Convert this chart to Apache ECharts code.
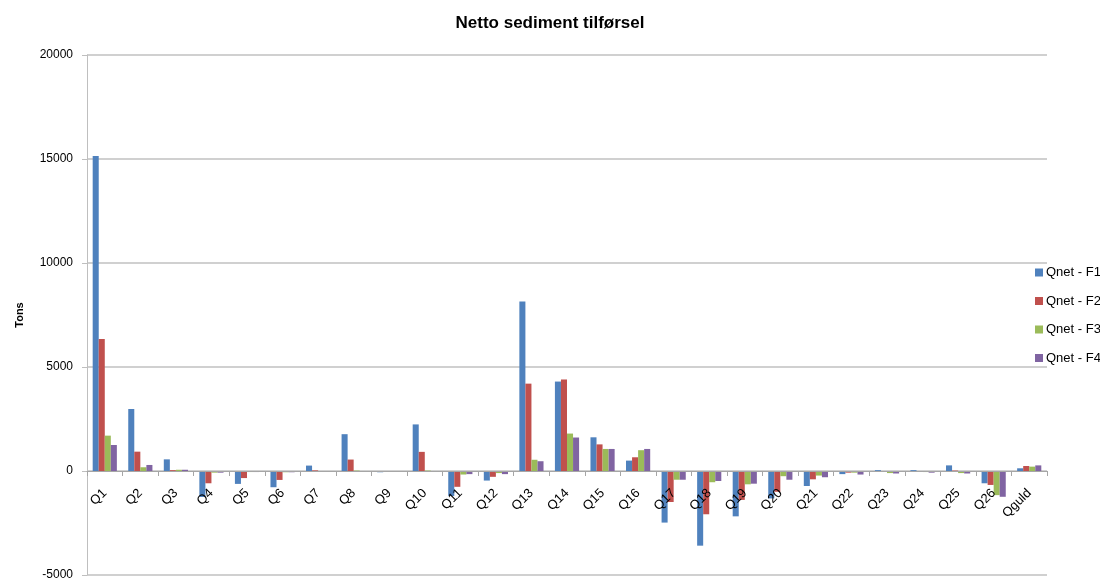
<!DOCTYPE html>
<html>
<head>
<meta charset="utf-8">
<script src="https://cdn.jsdelivr.net/npm/echarts@6/dist/echarts.min.js"></script>
<style>
  html, body { margin: 0; padding: 0; background: #fff; }
  #chart { width: 1100px; height: 583px; }
</style>
</head>
<body>
<div id="chart"></div>
<script>
var categories = ['Q1','Q2','Q3','Q4','Q5','Q6','Q7','Q8','Q9','Q10','Q11','Q12','Q13','Q14','Q15','Q16','Q17','Q18','Q19','Q20','Q21','Q22','Q23','Q24','Q25','Q26','Qguld'];

var qnetF1 = [15150, 2980, 560, -1250, -620, -780, 260, 1770, -60, 2240, -1200, -460, 8150, 4300, 1620, 500, -2480, -3590, -2180, -1320, -720, -150, 40, 40, 270, -590, 130];
var qnetF2 = [6350, 930, 40, -590, -340, -430, 30, 550, -30, 920, -760, -280, 4200, 4400, 1280, 660, -1490, -2080, -1390, -1000, -400, -80, -20, -20, 20, -670, 240];
var qnetF3 = [1700, 180, 60, -80, -50, -60, -40, 20, 0, 20, -170, -100, 540, 1800, 1060, 1000, -420, -540, -640, -250, -220, -80, -100, -50, -100, -1160, 210];
var qnetF4 = [1250, 290, 60, -80, -50, -60, -40, 0, -30, 0, -150, -150, 470, 1610, 1060, 1060, -420, -480, -610, -420, -300, -170, -120, -80, -120, -1240, 270];

var yTicks = { min: -5000, max: 20000, step: 5000 };

var colors = ['#4F81BD', '#C0504D', '#9BBB59', '#8064A2'];
var names = ['Qnet - F1', 'Qnet - F2', 'Qnet - F3', 'Qnet - F4'];
var allData = [qnetF1, qnetF2, qnetF3, qnetF4];

var series = allData.map(function (d, i) {
  return {
    name: names[i],
    type: 'bar',
    data: d,
    barGap: '0%',
    barCategoryGap: '32%',
    itemStyle: { color: colors[i] }
  };
});

// grid is 520px tall; the category axis is moved up to the zero line
var gridTop = 55, gridHeight = 520;
var zeroOffset = gridHeight * (0 - yTicks.min) / (yTicks.max - yTicks.min);

var chart = echarts.init(document.getElementById('chart'));
chart.setOption({
  animation: false,
  color: colors,
  title: {
    text: 'Netto sediment tilførsel',
    left: 'center',
    top: 10,
    textStyle: { fontFamily: 'Liberation Sans', fontSize: 17, fontWeight: 'bold', color: '#000' }
  },
  legend: {
    orient: 'vertical',
    left: 1030,
    top: 261,
    icon: 'rect',
    itemWidth: 8,
    itemHeight: 8,
    itemGap: 15.5,
    data: names,
    textStyle: { fontFamily: 'Liberation Sans', fontSize: 13, color: '#000', padding: [0, 0, 0, -2] }
  },
  grid: { left: 87, right: 53, top: gridTop, height: gridHeight, containLabel: false, outerBoundsMode: 'none' },
  xAxis: {
    type: 'category',
    data: categories,
    position: 'bottom',
    offset: -zeroOffset,
    z: 5,
    axisLine: { onZero: false, lineStyle: { color: '#a6a6a6', width: 1 } },
    axisTick: { show: true, length: 5, lineStyle: { color: '#a6a6a6' } },
    axisLabel: {
      interval: 0,
      rotate: 45,
      margin: 20,
      fontFamily: 'Liberation Sans',
      fontSize: 13,
      color: '#000'
    }
  },
  yAxis: {
    type: 'value',
    name: 'Tons',
    nameLocation: 'middle',
    nameGap: 62,
    nameTextStyle: { fontFamily: 'Liberation Sans', fontSize: 11, fontWeight: 'bold', color: '#000' },
    min: yTicks.min,
    max: yTicks.max,
    interval: yTicks.step,
    axisLine: { show: true, lineStyle: { color: '#bfbfbf', width: 1 } },
    axisTick: { show: true, length: 5, lineStyle: { color: '#bfbfbf' } },
    axisLabel: {
      fontFamily: 'Liberation Sans', fontSize: 12, color: '#000', margin: 14,
      formatter: function (v) { return String(v); }
    },
    splitLine: { lineStyle: { color: '#d0d0d0', width: 2 } }
  },
  series: series
});
</script>
</body>
</html>
